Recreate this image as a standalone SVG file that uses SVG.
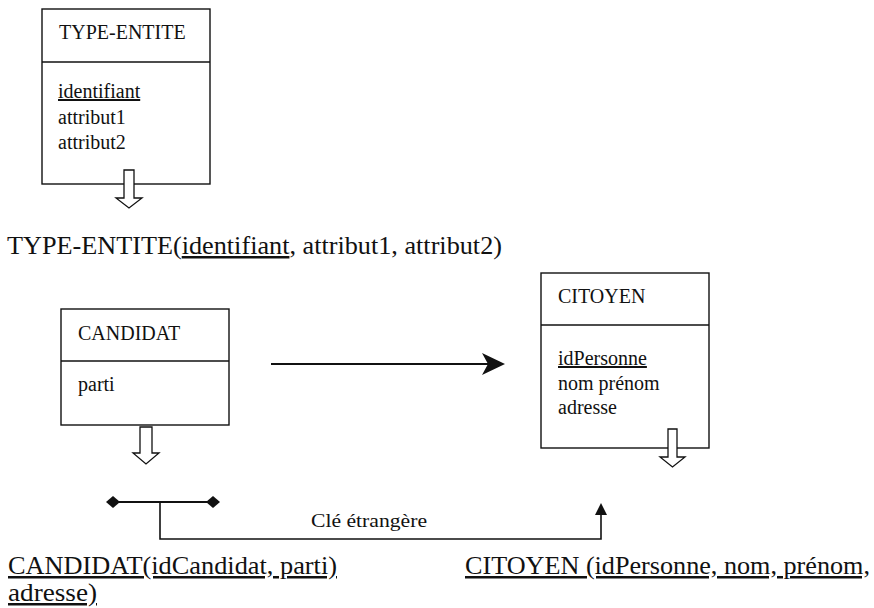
<svg xmlns="http://www.w3.org/2000/svg" width="874" height="608" viewBox="0 0 874 608">
  <style>
    .box { fill: #fff; stroke: #111; stroke-width: 1.4; }
    .div { stroke: #111; stroke-width: 1.4; }
    .t { font-family: "Liberation Serif", "Times New Roman", serif; fill: #111; }
    .bt { font-size: 20px; }
    .ft { font-size: 25px; }
    .ul { text-decoration: underline; }
    .hollow { fill: #fff; stroke: #111; stroke-width: 1.3; stroke-linejoin: miter; }
    .wire { fill: none; stroke: #111; stroke-width: 1.6; }
    .head { fill: #111; stroke: none; }
  </style>

  <!-- generic entity type -->
  <g id="type-entite">
    <rect class="box" x="42" y="9" width="168" height="175"/>
    <line class="div" x1="42" y1="62" x2="210" y2="62"/>
    <text class="t bt" x="59" y="39">TYPE-ENTITE</text>
    <text class="t bt ul" x="58" y="98">identifiant</text>
    <text class="t bt" x="58" y="124">attribut1</text>
    <text class="t bt" x="58" y="149">attribut2</text>
    <polygon class="hollow" points="124,170 134,170 134,198 142,198 129,208 116,198 124,198"/>
  </g>

  <text id="type-entite-rel" class="t ft" x="7" y="254" textLength="495" lengthAdjust="spacingAndGlyphs">TYPE-ENTITE(<tspan class="ul">identifiant</tspan>, attribut1, attribut2)</text>

  <!-- CANDIDAT entity -->
  <g id="candidat">
    <rect class="box" x="61" y="309" width="168" height="116"/>
    <line class="div" x1="61" y1="361" x2="229" y2="361"/>
    <text class="t bt" x="78" y="340">CANDIDAT</text>
    <text class="t bt" x="78" y="391">parti</text>
    <polygon class="hollow" points="140,427 152,427 152,453 159,453 146,464 133,453 140,453"/>
  </g>

  <!-- CITOYEN entity -->
  <g id="citoyen">
    <rect class="box" x="541" y="273" width="168" height="175"/>
    <line class="div" x1="541" y1="325" x2="709" y2="325"/>
    <text class="t bt" x="558" y="303">CITOYEN</text>
    <text class="t bt ul" x="558" y="365">idPersonne</text>
    <text class="t bt" x="558" y="390">nom prénom</text>
    <text class="t bt" x="558" y="414">adresse</text>
    <polygon class="hollow" points="668,429 677,429 677,457 685,457 672.5,467 660,457 668,457"/>
  </g>

  <!-- connectors -->
  <g id="connectors">
    <!-- inheritance arrow CANDIDAT -> CITOYEN -->
    <line class="wire" x1="271" y1="364" x2="492" y2="364" style="stroke-width:2.2"/>
    <polygon class="head" points="505,364 482,353 488,364 482,375"/>

    <!-- foreign key bracket -->
    <line class="wire" x1="113" y1="502" x2="213" y2="502" style="stroke-width:2.2"/>
    <polygon class="head" points="106,502 113,496 120,502 113,508"/>
    <polygon class="head" points="206,502 213,496 220,502 213,508"/>
    <polyline class="wire" points="160,502 160,539 601,539 601,512"/>
    <polygon class="head" points="601,503 607,515 595,515"/>
    <text class="t" x="311" y="527" font-size="19" textLength="116" lengthAdjust="spacingAndGlyphs">Clé étrangère</text>
  </g>

  <!-- relational schemas -->
  <g id="schemas">
    <text class="t ul" x="8" y="574" font-size="25" textLength="329" lengthAdjust="spacingAndGlyphs">CANDIDAT(idCandidat, parti)</text>
    <text class="t ul" x="465" y="574" font-size="25" textLength="405" lengthAdjust="spacingAndGlyphs">CITOYEN (idPersonne, nom, prénom,</text>
    <text class="t ul" x="8" y="601" font-size="25" textLength="89" lengthAdjust="spacingAndGlyphs">adresse)</text>
  </g>
</svg>
